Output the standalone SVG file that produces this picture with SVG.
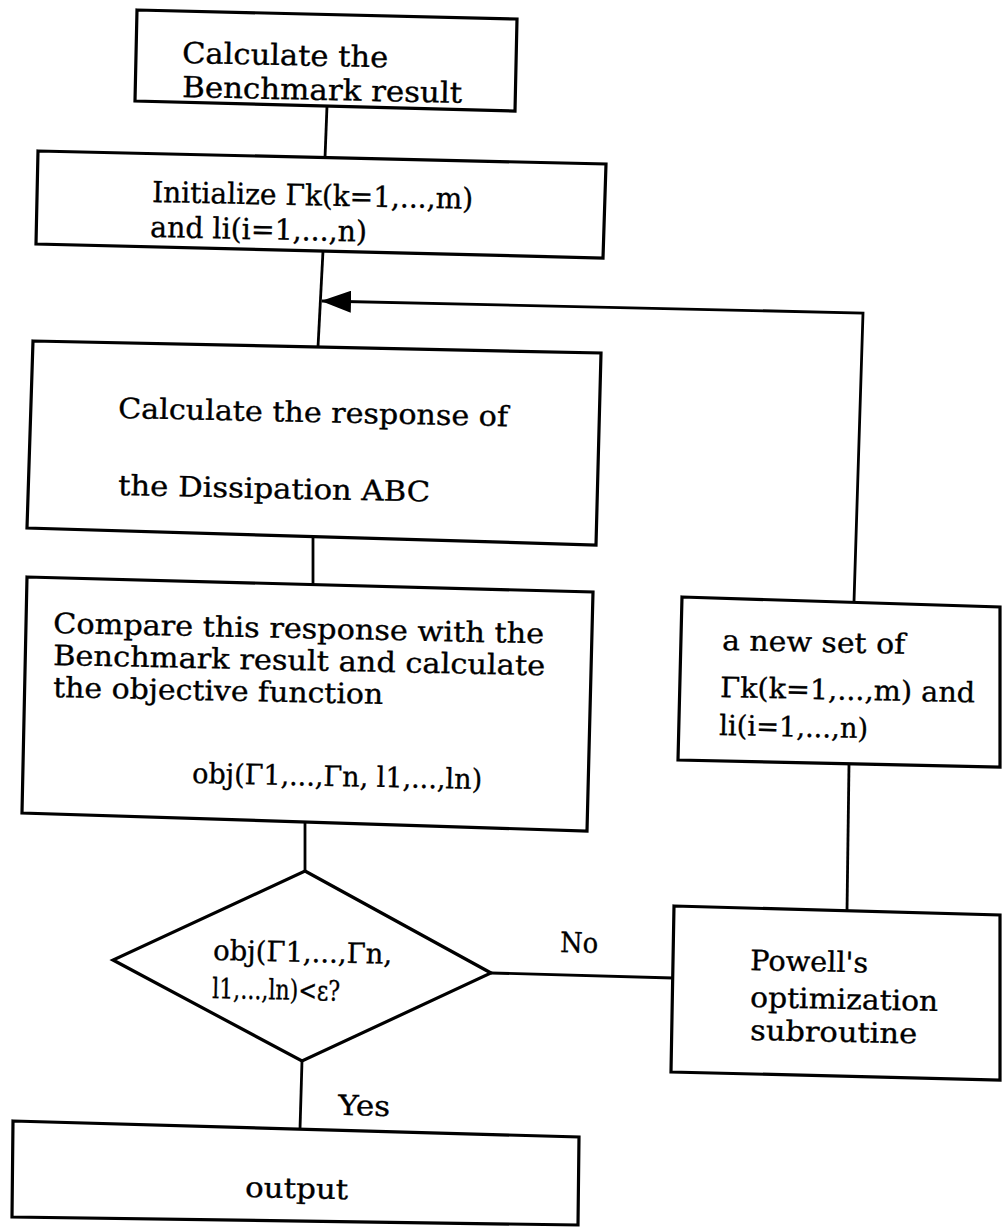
<svg xmlns="http://www.w3.org/2000/svg" width="1003" height="1229" viewBox="0 0 1003 1229">
<style>
.box{fill:none;stroke:#000;stroke-width:3.2;stroke-linejoin:miter}
.con{fill:none;stroke:#000;stroke-width:2.8}
.t{font-family:"DejaVu Serif","Liberation Serif",serif;font-size:28px;fill:#000;stroke:#000;stroke-width:0.35}
.tb{font-size:29px}
</style>
<defs>
<marker id="arr" markerUnits="userSpaceOnUse" viewBox="0 0 30 22" refX="29" refY="11" markerWidth="30" markerHeight="22" orient="auto">
<path d="M0,0 L30,11 L0,22 z" fill="#000"/>
</marker>
</defs>
<rect width="1003" height="1229" fill="#fff"/>
<g id="connectors">
<path class="con" d="M327,106 L325,158"/>
<path class="con" d="M323,251 L318,347"/>
<path class="con" d="M313,536 L313,585"/>
<path class="con" d="M305,822 L305,871"/>
<path class="con" d="M302,1061 L300,1129"/>
<path class="con" d="M491,973 L673,978"/>
<path class="con" d="M847,911 L849,764"/>
<path class="con" d="M854,602 L863,313 L322,301" marker-end="url(#arr)"/>
</g>
<g id="n1">
<polygon class="box" points="137,10 517,19 515,111 135,101"/>
<text class="t tb" x="182" y="63" textLength="206" lengthAdjust="spacingAndGlyphs" transform="rotate(1.2 182 63)">Calculate the</text>
<text class="t tb" x="182" y="97" textLength="280" lengthAdjust="spacingAndGlyphs" transform="rotate(1.2 182 97)">Benchmark result</text>
</g>
<g id="n2">
<polygon class="box" points="38,151 606,164 603,258 36,244"/>
<text class="t tb" x="152" y="202" textLength="321" lengthAdjust="spacingAndGlyphs" transform="rotate(1.2 152 202)">Initialize Γk(k=1,...,m)</text>
<text class="t tb" x="150" y="237" textLength="217" lengthAdjust="spacingAndGlyphs" transform="rotate(1.2 150 237)">and li(i=1,...,n)</text>
</g>
<g id="n3">
<polygon class="box" points="33,341 601,353 596,545 27,528"/>
<text class="t" x="118" y="418" textLength="390" lengthAdjust="spacingAndGlyphs" transform="rotate(1.2 118 418)">Calculate the response of</text>
<text class="t" x="118" y="495" textLength="312" lengthAdjust="spacingAndGlyphs" transform="rotate(1.2 118 495)">the Dissipation ABC</text>
</g>
<g id="n4">
<polygon class="box" points="27,577 593,592 587,831 22,813"/>
<text class="t" x="53" y="633" textLength="491" lengthAdjust="spacingAndGlyphs" transform="rotate(1.2 53 633)">Compare this response with the</text>
<text class="t" x="53" y="665" textLength="492" lengthAdjust="spacingAndGlyphs" transform="rotate(1.2 53 665)">Benchmark result and calculate</text>
<text class="t" x="53" y="697" textLength="330" lengthAdjust="spacingAndGlyphs" transform="rotate(1.2 53 697)">the objective function</text>
<text class="t" x="192" y="783" textLength="290" lengthAdjust="spacingAndGlyphs" transform="rotate(1.2 192 783)">obj(Γ1,...,Γn, l1,...,ln)</text>
</g>
<g id="n5">
<polygon class="box" points="305,871 491,973 302,1061 113,960"/>
<text class="t" x="213" y="960" textLength="179" lengthAdjust="spacingAndGlyphs" transform="rotate(1.2 213 960)">obj(Γ1,...,Γn,</text>
<text class="t" x="212" y="998" textLength="128" lengthAdjust="spacingAndGlyphs" transform="rotate(1.2 212 998)">l1,...,ln)&lt;ε?</text>
</g>
<g id="n6">
<polygon class="box" points="682,597 1000,607 1000,767 678,760"/>
<text class="t" x="722" y="650" textLength="183" lengthAdjust="spacingAndGlyphs" transform="rotate(1.2 722 650)">a new set of</text>
<text class="t" x="720" y="697" textLength="255" lengthAdjust="spacingAndGlyphs" transform="rotate(1.2 720 697)">Γk(k=1,...,m) and</text>
<text class="t" x="719" y="735" textLength="149" lengthAdjust="spacingAndGlyphs" transform="rotate(1.2 719 735)">li(i=1,...,n)</text>
</g>
<g id="n7">
<polygon class="box" points="674,906 1000,915 1000,1080 671,1072"/>
<text class="t" x="750" y="970" textLength="118" lengthAdjust="spacingAndGlyphs" transform="rotate(1.2 750 970)">Powell's</text>
<text class="t" x="750" y="1007" textLength="188" lengthAdjust="spacingAndGlyphs" transform="rotate(1.2 750 1007)">optimization</text>
<text class="t" x="750" y="1040" textLength="167" lengthAdjust="spacingAndGlyphs" transform="rotate(1.2 750 1040)">subroutine</text>
</g>
<g id="n8">
<polygon class="box" points="13,1121 579,1137 578,1225 12,1217"/>
<text class="t" x="245" y="1197" textLength="103" lengthAdjust="spacingAndGlyphs" transform="rotate(1.2 245 1197)">output</text>
</g>
<g id="labels">
<text class="t" x="560" y="952" textLength="38" lengthAdjust="spacingAndGlyphs" transform="rotate(1.2 560 952)">No</text>
<text class="t" x="338" y="1115" textLength="52" lengthAdjust="spacingAndGlyphs" transform="rotate(1.2 338 1115)">Yes</text>
</g>
</svg>
